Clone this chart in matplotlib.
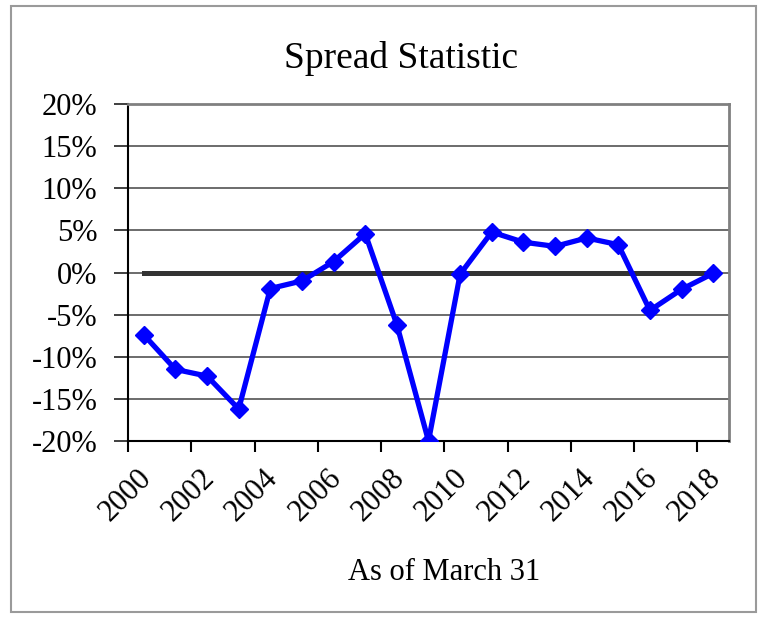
import numpy as np
import matplotlib.pyplot as plt
import matplotlib.transforms as mtransforms
from matplotlib.patches import Rectangle

plt.rcParams['font.family'] = ['Liberation Serif', 'DejaVu Serif']

years = list(range(2000, 2019))
spread = [-7.4, -11.5, -12.3, -16.2, -1.9, -1.0, 1.3, 4.6, -6.2, -20.0,
          -0.2, 4.8, 3.6, 3.1, 4.1, 3.3, -4.5, -2.0, -0.1]
zero_line = [0.0] * len(years)
y_ticks = [-20, -15, -10, -5, 0, 5, 10, 15, 20]

fig = plt.figure(figsize=(7.58, 6.20), dpi=100)
fig.patches.append(Rectangle((11 / 758, 8 / 620), 745 / 758, 606 / 620,
                             transform=fig.transFigure, fill=False,
                             edgecolor='#9a9a9a', linewidth=1.5))

ax = fig.add_axes([128 / 758, 1 - 441 / 620, 601 / 758, 337 / 620])

x = np.arange(len(years))
for yv in y_ticks:
    ax.axhline(yv, color='#606060', linewidth=1.3, zorder=1)
ax.plot(x, zero_line, color='#333333', linewidth=3.6, zorder=2)
ax.plot(x, spread, color='#0000ff', linewidth=3.8, marker='D',
        markersize=9, zorder=3)

ax.set_xlim(-0.5, len(years) - 0.5)
ax.set_ylim(-20, 20)
ax.set_yticks(y_ticks)
ax.set_yticklabels([f'{v}%' for v in y_ticks], fontsize=22)
ax.tick_params(axis='y', length=10, width=1.3, color='#303030', pad=12)

# ticks between category pairs, labels on even years
ax.set_xticks(np.arange(-0.5, len(years) - 1, 2))
ax.set_xticklabels([])
ax.tick_params(axis='x', which='major', length=8, width=1.5, color='black')
ax.set_xticks(x[::2], minor=True)
ax.set_xticklabels([str(y) for y in years[::2]], minor=True, fontsize=22,
                   rotation=45, ha='right', va='top', rotation_mode='anchor')
ax.tick_params(axis='x', which='minor', length=0, pad=16)
shift = mtransforms.ScaledTranslation(-7 / 100, 0, fig.dpi_scale_trans)
for lbl in ax.get_xticklabels(minor=True):
    lbl.set_transform(lbl.get_transform() + shift)

for side in ['left', 'bottom']:
    ax.spines[side].set_color('black')
    ax.spines[side].set_linewidth(1.5)
for side in ['right', 'top']:
    ax.spines[side].set_color('#808080')
    ax.spines[side].set_linewidth(2)

fig.text(401 / 758, 1 - 59 / 620, 'Spread Statistic', fontsize=27,
         ha='center', va='center')
fig.text(444 / 758, 1 - 573 / 620, 'As of March 31', fontsize=22,
         ha='center', va='center')

fig.savefig('out.png', dpi=100)
